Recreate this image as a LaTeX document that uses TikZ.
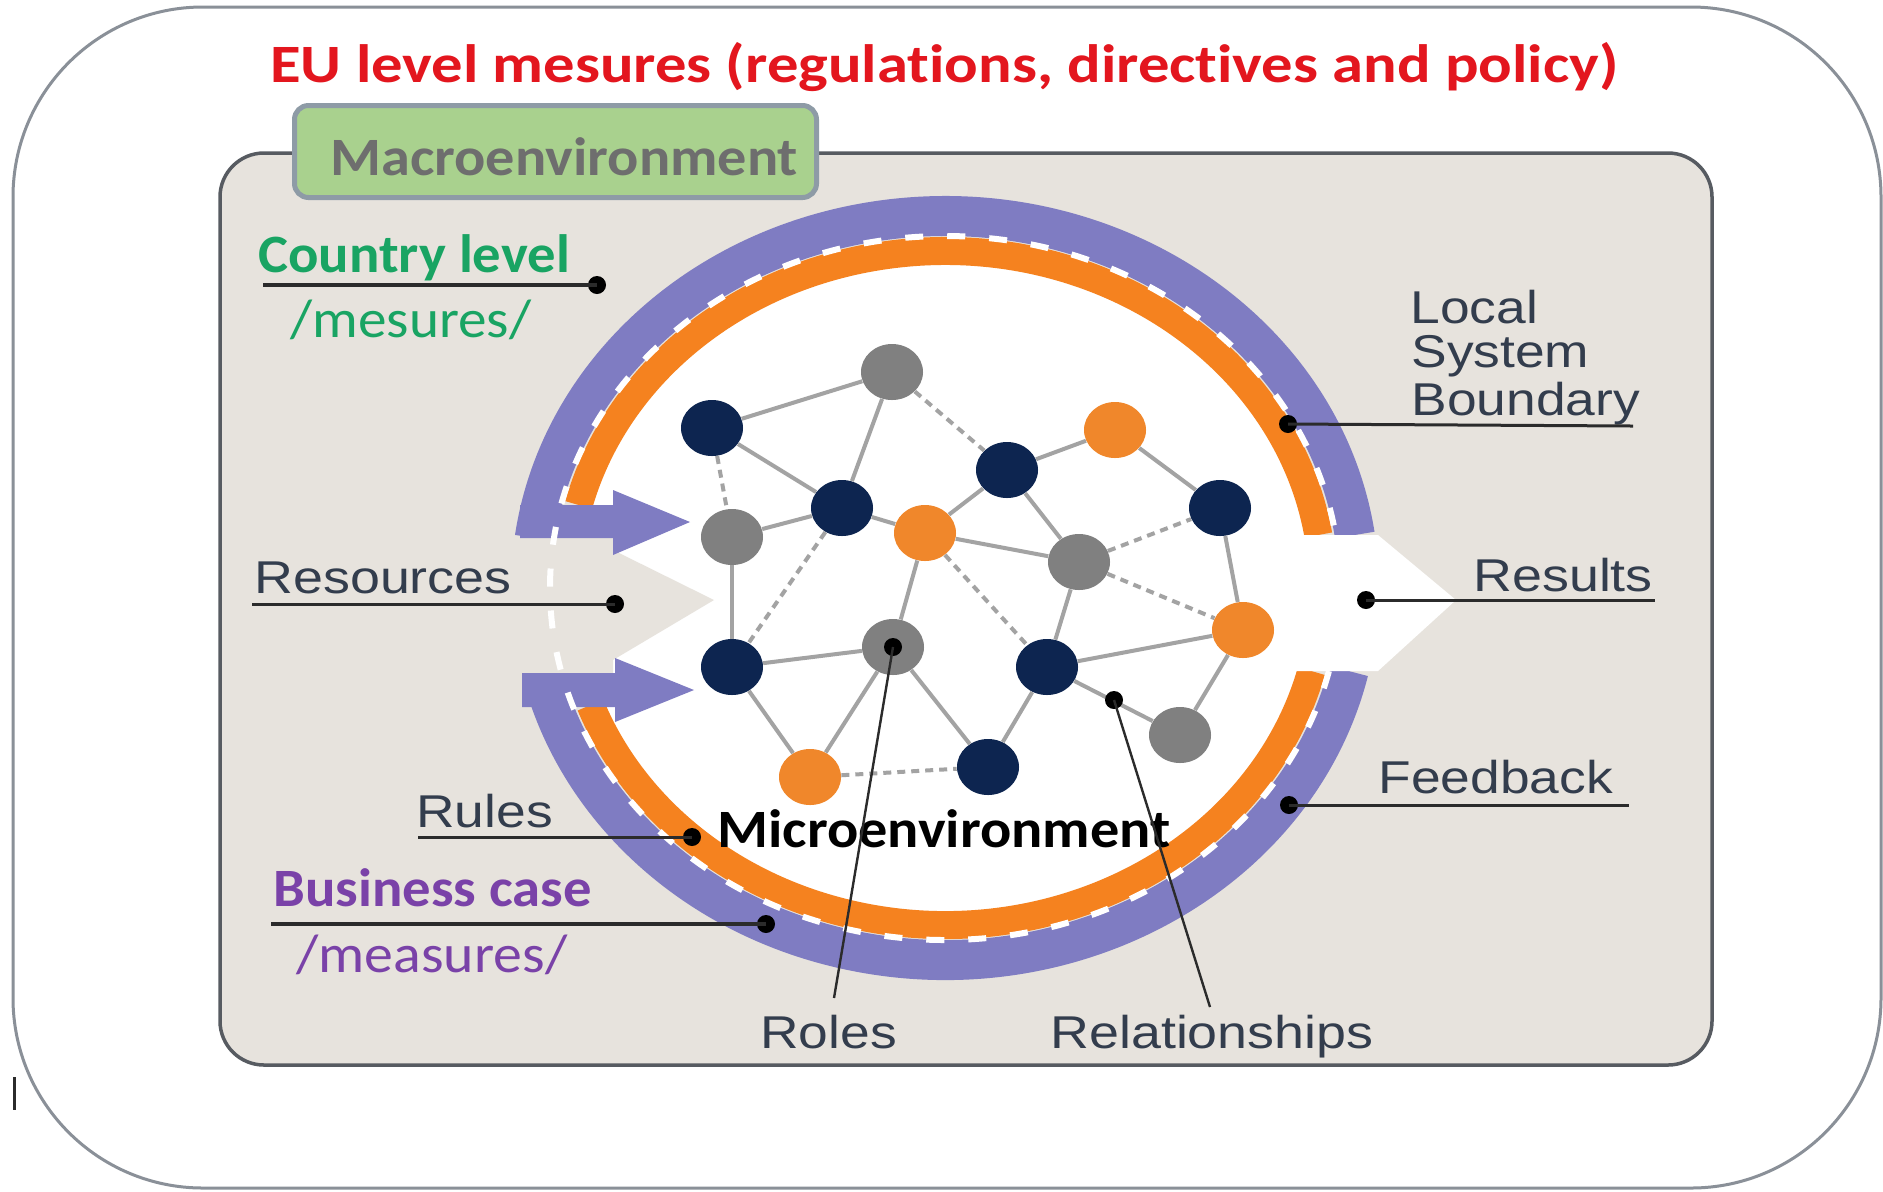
\documentclass[tikz,border=0pt]{standalone}
\usepackage{fontspec}
\setmainfont{Liberation Sans}
\newfontfamily\calibrifont[Ligatures=NoCommon]{Carlito}
\newfontfamily\arialfont{Liberation Sans}
\usepackage{graphicx}
\usetikzlibrary{shapes.geometric}
\definecolor{ringpurple}{HTML}{7F7CC2}
\definecolor{ringorange}{HTML}{F5821F}
\definecolor{nodeorange}{HTML}{F0872B}
\definecolor{navy}{HTML}{0D2550}
\definecolor{nodegray}{HTML}{808080}
\definecolor{macrobg}{HTML}{E7E3DD}
\definecolor{macroborder}{HTML}{575B61}
\definecolor{outerborder}{HTML}{8A9098}
\definecolor{tabgreen}{HTML}{A9D18E}
\definecolor{tabborder}{HTML}{8E9BA6}
\definecolor{tabtext}{HTML}{6E6E6E}
\definecolor{edgegray}{HTML}{A3A3A3}
\definecolor{slate}{HTML}{333D4D}
\definecolor{eured}{HTML}{E3161E}
\definecolor{cgreen}{HTML}{19A463}
\definecolor{bpurple}{HTML}{7A42A8}
\definecolor{leadc}{HTML}{2B2B2B}
\newcommand\StretchX[2]{\scalebox{#1}[1]{#2}}
\begin{document}
\begin{tikzpicture}[x=0.5pt,y=-0.5pt,
  netedge/.style={draw=edgegray, line width=2pt},
  netdash/.style={netedge, dash pattern=on 4pt off 3pt},
  nnode/.style={ellipse, minimum width=31pt, minimum height=28pt, inner sep=0pt},
  navyn/.style={nnode, fill=navy},
  grayn/.style={nnode, fill=nodegray},
  orangen/.style={nnode, fill=nodeorange},
  albl/.style={inner sep=0pt, anchor=base west, text=slate, font=\arialfont\fontsize{23}{23}\selectfont},
  clbl/.style={inner sep=0pt, anchor=base west, font=\calibrifont\bfseries\fontsize{27}{27}\selectfont},
  leader/.style={draw=leadc, line width=1.5pt},
  ldot/.style={circle, fill=black, inner sep=0pt, minimum size=9pt},
  purplering/.style={draw=ringpurple, line width=20pt},
  orangering/.style={draw=ringorange, line width=14pt}
]
\useasboundingbox (0,0) rectangle (1883,1191);
\fill[white] (0,0) rectangle (1883,1191);
% outer frame
\draw[outerborder, line width=1.5pt, rounded corners=95pt] (13,7) rectangle (1881,1188);
% macro environment box
\draw[macroborder, fill=macrobg, line width=1.75pt, rounded corners=22pt] (220,153) rectangle (1712,1065);
% tab
\node[draw=tabborder, fill=tabgreen, line width=2.5pt, rounded corners=7pt, minimum width=261pt, minimum height=46pt, inner sep=0pt] (tab) at (555.5,151.5) {};
\node[clbl, text=tabtext] (macro) at (330,175) {\StretchX{1.08}{Macroenvironment}};
% title
\node[clbl, text=eured] (title) at (270,82) {\StretchX{1.16}{EU level mesures (regulations, directives and policy)}};
% interior
\fill[white] (945,588) ellipse[x radius=378, y radius=337];
% rings
\draw[purplering] ([shift={(-8.19:414 and 372)}]945,588) arc[start angle=-8.19, end angle=-172.28, x radius=414, y radius=372];
\draw[purplering] ([shift={(12.89:414 and 372)}]945,588) arc[start angle=12.89, end angle=166.79, x radius=414, y radius=372];
\draw[orangering] ([shift={(-9.05:378 and 337)}]945,588) arc[start angle=-9.05, end angle=-165.74, x radius=378, y radius=337];
\draw[orangering] ([shift={(14.26:378 and 337)}]945,588) arc[start angle=14.26, end angle=159.68, x radius=378, y radius=337];
% right white chevron (results)
\fill[white] (1280,535) -- (1378,535) -- (1456,600) -- (1378,671) -- (1280,671) -- cycle;
% left beige chevron (resources)
\fill[macrobg] (470,538) -- (613,538) -- (613,550) -- (714,600) -- (613,660) -- (613,673) -- (470,673) -- cycle;
% purple arrows
\fill[ringpurple] (520,505) -- (613,505) -- (613,490) -- (690,522) -- (613,555) -- (613,538) -- (520,538) -- cycle;
\fill[ringpurple] (522,673) -- (615,673) -- (615,658) -- (694,690) -- (615,722) -- (615,707) -- (522,707) -- cycle;
% dashed white boundary
\draw[white, line width=3pt, dash pattern=on 9pt off 12pt] (945,588) ellipse[x radius=395, y radius=352];
% network nodes
\node[grayn]   (n1)  at (892,372) {};
\node[navyn]   (n2)  at (712,428) {};
\node[orangen] (n3)  at (1115,430) {};
\node[navyn]   (n4)  at (1007,470) {};
\node[navyn]   (n5)  at (1220,508) {};
\node[navyn]   (n6)  at (842,508) {};
\node[grayn]   (n7)  at (732,537) {};
\node[orangen] (n8)  at (925,533) {};
\node[grayn]   (n9)  at (1079,562) {};
\node[orangen] (n10) at (1243,630) {};
\node[navyn]   (n11) at (732,667) {};
\node[grayn]   (n12) at (893,647) {};
\node[navyn]   (n13) at (1047,667) {};
\node[grayn]   (n14) at (1180,735) {};
\node[navyn]   (n15) at (988,767) {};
\node[orangen] (n16) at (810,777) {};
% solid edges
\foreach \a/\b in {n2/n1, n2/n6, n1/n6, n6/n7, n6/n8, n7/n11, n11/n12, n11/n16, n12/n16, n12/n15, n8/n12, n8/n4, n8/n9, n4/n3, n4/n9, n3/n5, n5/n10, n9/n13, n13/n15, n13/n10, n13/n14, n10/n14}
  \draw[netedge] (\a) -- (\b);
% dashed edges
\foreach \a/\b in {n1/n4, n2/n7, n6/n11, n8/n13, n9/n5, n9/n10, n16/n15}
  \draw[netdash] (\a) -- (\b);
% labels
\node[clbl, text=cgreen] (country) at (258,272) {\StretchX{1.05}{Country level}};
\node[clbl, text=cgreen, font=\calibrifont\fontsize{27}{27}\selectfont] (cmes) at (290,337) {\StretchX{1.06}{/mesures/}};
\coordinate (country-l) at (263,285);
\node[ldot] (country-d) at (597,285) {};
\draw[leader, line width=2.2pt] (country-l) -- (country-d.center);

\node[albl] (lsb1) at (1410,323) {\StretchX{1.16}{Local}};
\node[albl] (lsb2) at (1411,367) {\StretchX{1.16}{System}};
\node[albl] (lsb3) at (1411,415) {\StretchX{1.16}{Boundary}};
\node[ldot] (lsb-d) at (1288,424) {};
\coordinate (lsb-r) at (1633,426);
\draw[leader] (lsb-d.center) -- (lsb-r);

\node[albl] (resources) at (254,593) {\StretchX{1.17}{Resources}};
\coordinate (res-l) at (252,604);
\node[ldot] (res-d) at (615,604) {};
\draw[leader] (res-l) -- (res-d.center);

\node[albl] (results) at (1473,591) {\StretchX{1.17}{Results}};
\node[ldot] (results-d) at (1366,600) {};
\coordinate (results-r) at (1655,600);
\draw[leader] (results-d.center) -- (results-r);

\node[albl] (feedback) at (1378,793) {\StretchX{1.16}{Feedback}};
\node[ldot] (feedback-d) at (1289,805) {};
\coordinate (feedback-r) at (1629,805);
\draw[leader] (feedback-d.center) -- (feedback-r);

\node[albl] (rules) at (416,827) {\StretchX{1.16}{Rules}};
\coordinate (rules-l) at (418,837);
\node[ldot] (rules-d) at (692,837) {};
\draw[leader] (rules-l) -- (rules-d.center);

\node[clbl, text=black] (micro) at (717,847) {\StretchX{1.08}{Microenvironment}};

\node[clbl, text=bpurple] (business) at (273,906) {\StretchX{1.05}{Business case}};
\node[clbl, text=bpurple, font=\calibrifont\fontsize{27}{27}\selectfont] (bmes) at (296,972) {\StretchX{1.07}{/measures/}};
\coordinate (business-l) at (271,924);
\node[ldot] (business-d) at (766,924) {};
\draw[leader, line width=2.2pt] (business-l) -- (business-d.center);

\node[albl] (roles) at (760,1048) {\StretchX{1.16}{Roles}};
\node[ldot] (roles-d) at (893,647) {};
\coordinate (roles-e) at (834,998);
\draw[leader, line width=1.2pt] (roles-d.center) -- (roles-e);

\node[albl] (relations) at (1050,1048) {\StretchX{1.17}{Relationships}};
\node[ldot] (rel-d) at (1114,700) {};
\coordinate (rel-e) at (1210,1007);
\draw[leader, line width=1.2pt] (rel-d.center) -- (rel-e);

% small mark at bottom left
\draw[leadc, line width=1.5pt] (14,1077) -- (14,1110);
\end{tikzpicture}
\end{document}
